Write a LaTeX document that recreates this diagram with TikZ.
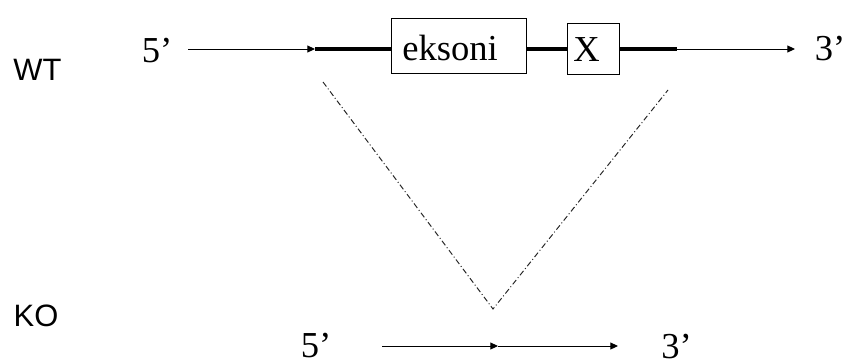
\documentclass[tikz,border=0pt]{standalone}
\usepackage{fontspec}
\setmainfont{Liberation Serif}
\newfontfamily\labelfont{Liberation Sans}
\usetikzlibrary{arrows.meta}

\begin{document}
\begin{tikzpicture}[x=0.025cm, y=-0.025cm,
        strand/.style={line width=0.7pt, -{Triangle[length=5.5pt, width=5pt]}},
        exonline/.style={line width=2.6pt},
        genebox/.style={draw, line width=0.6pt},
        boxtext/.style={anchor=base west, inner sep=0pt, font=\fontsize{26}{28}\selectfont},
        endlabel/.style={anchor=base, inner sep=0pt, font=\fontsize{26}{28}\selectfont},
        rowlabel/.style={inner sep=0pt, font=\labelfont\fontsize{22}{24}\selectfont},
        cut/.style={line width=0.7pt, black!85, dash pattern=on 4pt off 1.8pt on 0.7pt off 1.8pt}]
        \useasboundingbox (0,0) rectangle (845,363);

        % Row labels
        \node[rowlabel] (wt) at (37.5,70) {WT};
        \node[rowlabel] (ko) at (36,316) {KO};

        % Wild type allele
        \node[endlabel] (wt5) at (157,62) {5’};
        \node[endlabel] (wt3) at (830,60) {3’};
        \coordinate (wtstart) at (188,49);
        \coordinate (wtleft) at (315,49);
        \coordinate (wtright) at (677,49);
        \coordinate (wttip) at (795,49);
        \node[genebox, minimum width=135*0.025cm, minimum height=55*0.025cm] (eks) at (458.5,45.5) {};
        \node[genebox, minimum width=52*0.025cm, minimum height=51*0.025cm] (xbox) at (593,48.5) {};
        \node[boxtext] (ekstext) at (402,60) {eksoni};
        \node[boxtext] (xtext) at (573,61) {X};

        \draw[strand] (wtstart) -- (wtleft);
        \draw[exonline] (wtleft) -- (eks.west |- wtleft);
        \draw[exonline] (eks.east |- wtleft) -- (xbox.west |- wtleft);
        \draw[exonline] (xbox.east |- wtleft) -- (wtright);
        \draw[strand] (wtright) -- (wttip);

        % Deleted region
        \coordinate (cutleft) at (323,82);
        \coordinate (cutright) at (668,90);
        \coordinate (cutjoin) at (493,309);
        \draw[cut] (cutleft) -- (cutjoin) -- (cutright);

        % Knock-out allele
        \node[endlabel] (ko5) at (316,357) {5’};
        \node[endlabel] (ko3) at (676.5,358) {3’};
        \coordinate (kostart) at (382,346);
        \coordinate (komid) at (498,346);
        \coordinate (kotip) at (618,346);
        \draw[strand] (kostart) -- (komid);
        \draw[strand] (komid) -- (kotip);
    \end{tikzpicture}
\end{document}
